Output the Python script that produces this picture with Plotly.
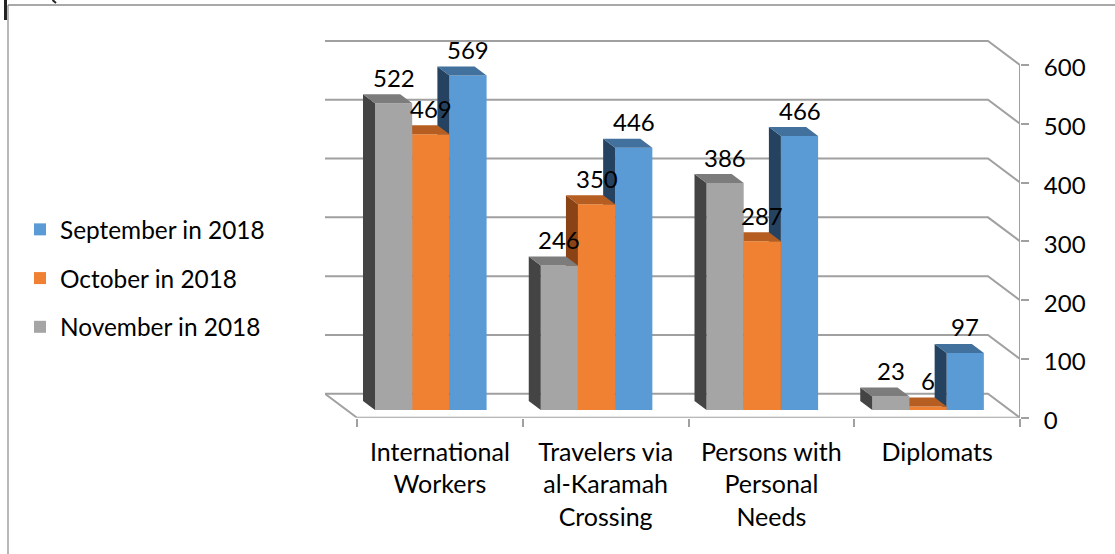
import plotly.graph_objects as go

categories = ["International<br>Workers", "Travelers via<br>al-Karamah<br>Crossing", "Persons with<br>Personal<br>Needs", "Diplomats"]
september = [569, 446, 466, 97]
october = [469, 350, 287, 6]
november = [522, 246, 386, 23]
y_ticks = [0, 100, 200, 300, 400, 500, 600]

W, H = 1115, 554
FONT = "Lato"
FS = 24
FS_TEXT = 25
FS_LEG = 24.4
TXT = "#000000"
GRID = "#A0A0A0"

# plot box in pixels (value 0 at BOTTOM, value 600 at Y600; the box runs up to cover the back wall)
LEFT, RIGHT, Y600, BOTTOM = 325, 1020, 65, 417.7
UX = (1020 - 357) / 4.0          # px per category
UY = (BOTTOM - Y600) / 600.0     # px per value unit
Y_MAX = 680
TOP = BOTTOM - Y_MAX * UY

WALL_DX = 32 / UX
WALL_DY = 24 / UY
BAR_DX = 12 / UX
BAR_DY = 9 / UY
BAR_BASE = 7.7 / UY
BAR_W = 37.2 / UX
BAR_START = 18 / UX
LABEL_GAP = 26 / UY

series = [
    ("September in 2018", september, 2, "#5B9BD5", "#254360", "#41719C"),
    ("October in 2018", october, 1, "#F08032", "#8A4315", "#B65E22"),
    ("November in 2018", november, 0, "#A5A5A5", "#444444", "#7C7C7C"),
]

fig = go.Figure()

# back wall gridlines + floor (base subplot, underneath everything)
for v in y_ticks:
    fig.add_trace(go.Scatter(
        x=[-WALL_DX, 4 - WALL_DX, 4], y=[v + WALL_DY, v + WALL_DY, v],
        mode="lines", line=dict(color=GRID, width=2), cliponaxis=False,
        showlegend=False, hoverinfo="skip"))
fig.add_trace(go.Scatter(
    x=[-WALL_DX, 0, 4], y=[WALL_DY, 0, 0],
    mode="lines", line=dict(color=GRID, width=2), cliponaxis=False,
    showlegend=False, hoverinfo="skip"))
# value axis line, stops at the last tick
fig.add_trace(go.Scatter(
    x=[4, 4], y=[y_ticks[0], y_ticks[-1]],
    mode="lines", line=dict(color=GRID, width=2), cliponaxis=False,
    showlegend=False, hoverinfo="skip"))

annots = []
for n, (name, vals, k, front, side, top) in enumerate(series):
    ax = str(n + 2)
    xs = [i + BAR_START + k * BAR_W for i in range(len(vals))]
    fig.add_trace(go.Bar(
        x=xs, y=vals, base=BAR_BASE, width=BAR_W, offset=0, name=name,
        marker=dict(color=front, line=dict(width=0)), cliponaxis=False,
        legendgroup=name, xaxis="x" + ax, yaxis="y" + ax))
    for x0, v in zip(xs, vals):
        t = v + BAR_BASE
        fig.add_trace(go.Scatter(
            x=[x0 - BAR_DX, x0, x0, x0 - BAR_DX, x0 - BAR_DX],
            y=[BAR_BASE + BAR_DY, BAR_BASE, t, t + BAR_DY, BAR_BASE + BAR_DY],
            mode="lines", fill="toself", fillcolor=side, line=dict(width=0, color=side),
            cliponaxis=False, showlegend=False, hoverinfo="skip",
            xaxis="x" + ax, yaxis="y" + ax))
        fig.add_trace(go.Scatter(
            x=[x0 - BAR_DX, x0 - BAR_DX + BAR_W, x0 + BAR_W, x0, x0 - BAR_DX],
            y=[t + BAR_DY, t + BAR_DY, t, t, t + BAR_DY],
            mode="lines", fill="toself", fillcolor=top, line=dict(width=0, color=top),
            cliponaxis=False, showlegend=False, hoverinfo="skip",
            xaxis="x" + ax, yaxis="y" + ax))
        annots.append(dict(
            x=x0 + BAR_W / 2, y=t + LABEL_GAP, xref="x", yref="y", text=str(v),
            showarrow=False, xanchor="center", yanchor="middle",
            font=dict(family=FONT, size=FS, color=TXT)))

dom_x = [LEFT / W, RIGHT / W]
dom_y = [1 - BOTTOM / H, 1 - TOP / H]
xr = [-WALL_DX, 4]
yr = [0, Y_MAX]

layout = dict(
    template="none",
    width=W, height=H, margin=dict(l=0, r=0, t=0, b=0, pad=0, autoexpand=False),
    paper_bgcolor="white", plot_bgcolor="rgba(0,0,0,0)",
    barmode="overlay",
    font=dict(family=FONT, size=FS, color=TXT),
    xaxis=dict(
        domain=dom_x, range=xr, tickmode="array", automargin=False,
        tickvals=[i + 0.5 for i in range(4)], ticktext=categories,
        ticks="", showgrid=False, zeroline=False, showline=False,
        ticklabelstandoff=17,
        minor=dict(tickmode="array", tickvals=[0, 1, 2, 3, 4], ticks="outside",
                   ticklen=8, tickwidth=2, tickcolor=GRID, showgrid=False),
        tickfont=dict(family=FONT, size=FS_TEXT, color=TXT)),
    yaxis=dict(
        domain=dom_y, range=yr, side="right", anchor="x", tickmode="array", automargin=False,
        tickvals=y_ticks, ticktext=[str(v) for v in y_ticks],
        ticks="outside", ticklen=8, tickwidth=2, tickcolor=GRID,
        showline=False, showgrid=False, zeroline=False,
        ticklabelstandoff=10, ticklabelshift=3,
        tickfont=dict(family=FONT, size=FS, color=TXT)),
    legend=dict(
        x=20 / W, xanchor="left", y=1 - 207 / H, yanchor="top",
        traceorder="grouped", tracegroupgap=14, bgcolor="rgba(0,0,0,0)",
        font=dict(family=FONT, size=FS_LEG, color=TXT)),
    annotations=annots,
    shapes=[
        dict(type="line", xref="paper", yref="paper", x0=8 / W, x1=8 / W, y0=0, y1=1 - 5 / H,
             line=dict(color="#A0A0A0", width=1.5)),
        dict(type="line", xref="paper", yref="paper", x0=8 / W, x1=1, y0=1 - 5 / H, y1=1 - 5 / H,
             line=dict(color="#8C8C8C", width=1.5)),
        dict(type="line", xref="paper", yref="paper", x0=5.5 / W, x1=5.5 / W, y0=1 - 20 / H, y1=1,
             line=dict(color="#222222", width=3)),
        dict(type="line", xref="paper", yref="paper", x0=52.5 / W, x1=56 / W, y0=1, y1=1 - 3 / H,
             line=dict(color="#222222", width=2)),
    ],
)
for n in (2, 3, 4):
    layout[f"xaxis{n}"] = dict(domain=dom_x, range=xr, overlaying="x", visible=False, anchor=f"y{n}")
    layout[f"yaxis{n}"] = dict(domain=dom_y, range=yr, overlaying="y", visible=False, anchor=f"x{n}")

fig.update_layout(**layout)
fig.write_html("out.html", config=dict(displayModeBar=False),
               post_script="document.body.style.margin='0';document.body.style.overflow='hidden';")
